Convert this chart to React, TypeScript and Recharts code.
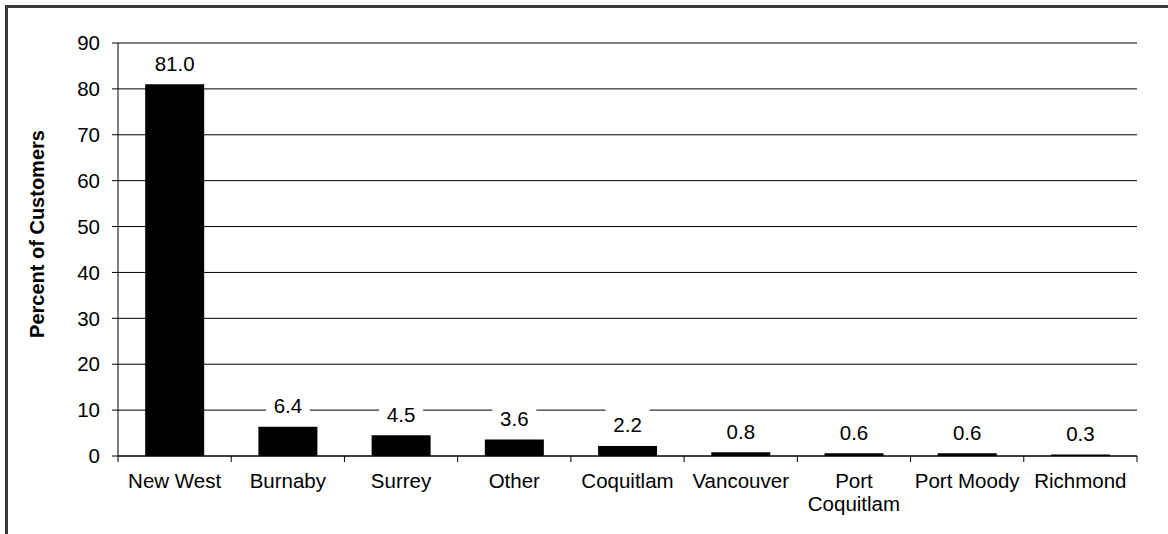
import React from "react";
import {
  BarChart,
  Bar,
  XAxis,
  YAxis,
  CartesianGrid,
  LabelList,
} from "recharts";

const cities = [
  "New West",
  "Burnaby",
  "Surrey",
  "Other",
  "Coquitlam",
  "Vancouver",
  "Port Coquitlam",
  "Port Moody",
  "Richmond",
];
const percents = [81.0, 6.4, 4.5, 3.6, 2.2, 0.8, 0.6, 0.6, 0.3];
const yTicks = [0, 10, 20, 30, 40, 50, 60, 70, 80, 90];

const W = 1168;
const H = 534;
const M = { top: 43, right: 31, left: 0, bottom: 18 };
const Y_W = 118;
const X_H = 60;
const FONT = "'Liberation Sans', Arial, sans-serif";
const band = (W - M.left - M.right - Y_W) / cities.length;

const data = cities.map((city, i) => ({ city, pct: percents[i] }));

const CityTick = (props: any) => {
  const { x, y, payload, index } = props;
  const name: string = payload.value;
  const lines = name.length > 12 ? name.split(" ") : [name];
  return (
    <g>
      {index === 0 && (
        <line x1={x - band / 2} x2={x - band / 2} y1={y} y2={y + 6} stroke="#000" />
      )}
      <line x1={x + band / 2} x2={x + band / 2} y1={y} y2={y + 6} stroke="#000" />
      <text
        x={x}
        y={y + 32}
        textAnchor="middle"
        fontFamily={FONT}
        fontSize={20.5}
        fill="#000"
      >
        {lines.map((l, i) => (
          <tspan key={i} x={x} dy={i === 0 ? 0 : 23}>
            {l}
          </tspan>
        ))}
      </text>
    </g>
  );
};

const ValueLabel = (props: any) => {
  const { x, y, width, value } = props;
  const cx = x + width / 2;
  const cy = y - 21;
  const txt = Number(value).toFixed(1);
  const w = txt.length * 10 + 14;
  return (
    <g>
      <rect x={cx - w / 2} y={cy - 18} width={w} height={30} fill="#fff" />
      <text
        x={cx}
        y={cy}
        textAnchor="middle"
        dominantBaseline="central"
        fontFamily={FONT}
        fontSize={20.5}
        fill="#000"
      >
        {txt}
      </text>
    </g>
  );
};

export default function App() {
  return (
    <div
      style={{
        position: "absolute",
        left: 0,
        top: 0,
        width: W,
        height: H,
        background: "#fff",
        overflow: "hidden",
      }}
    >
      <div
        style={{
          position: "absolute",
          left: 5,
          top: 5,
          width: W,
          height: H,
          borderLeft: "3px solid #3a3a3a",
          borderTop: "3px solid #3a3a3a",
        }}
      />
      <div style={{ position: "absolute", left: 0, top: 0 }}>
        <BarChart width={W} height={H} data={data} margin={M} barCategoryGap="24%">
          <CartesianGrid yAxisId="left" vertical={false} stroke="#000" />
          <XAxis
            dataKey="city"
            interval={0}
            height={X_H}
            tickSize={0}
            tickMargin={0}
            axisLine={{ stroke: "#000" }}
            tickLine={false}
            tick={<CityTick />}
          />
          <YAxis
            yAxisId="left"
            width={Y_W}
            domain={[0, 90]}
            ticks={yTicks}
            interval={0}
            tickSize={6}
            tickMargin={12}
            axisLine={{ stroke: "#000" }}
            tickLine={{ stroke: "#000" }}
            tick={{ fill: "#000", fontSize: 20.5, fontFamily: FONT }}
            label={{
              content: () => (
                <text
                  x={37}
                  y={234}
                  transform="rotate(-90 37 234)"
                  textAnchor="middle"
                  dominantBaseline="central"
                  fontFamily={FONT}
                  fontSize={20}
                  fontWeight="bold"
                  fill="#000"
                >
                  Percent of Customers
                </text>
              ),
            }}
          />
          <YAxis
            yAxisId="right"
            orientation="right"
            width={0}
            domain={[0, 90]}
            ticks={yTicks}
            tick={false}
            tickLine={false}
            axisLine={{ stroke: "#000" }}
          />
          <Bar yAxisId="left" dataKey="pct" fill="#000" isAnimationActive={false}>
            <LabelList dataKey="pct" content={<ValueLabel />} />
          </Bar>
        </BarChart>
      </div>
    </div>
  );
}
